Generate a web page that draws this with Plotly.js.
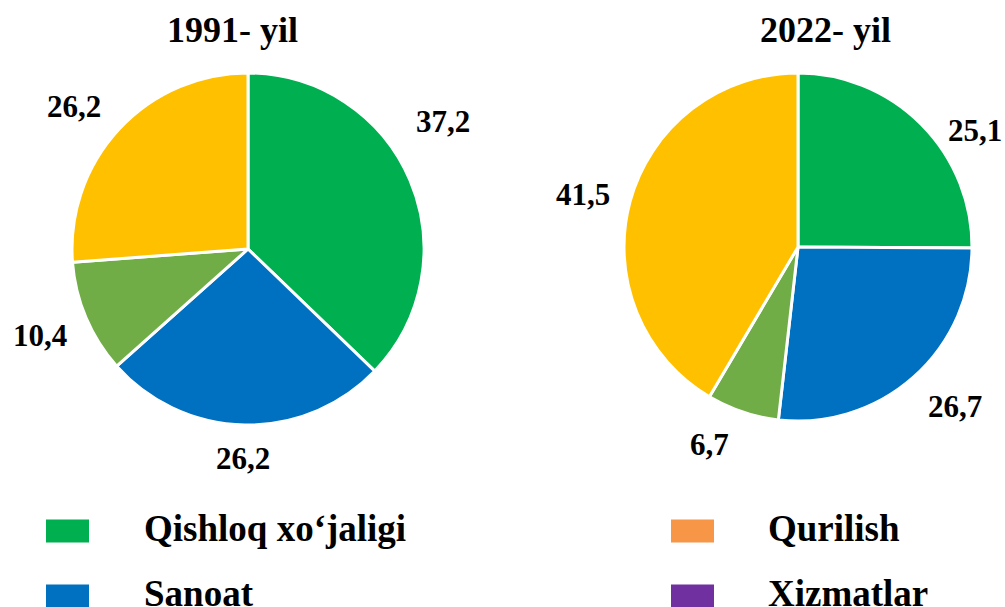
<!DOCTYPE html>
<html>
<head>
<meta charset="utf-8">
<script src="https://cdn.plot.ly/plotly-3.0.1.min.js"></script>
<style>html,body{margin:0;padding:0;background:#fff;}#chart{width:1005px;height:607px;}</style>
</head>
<body>
<div id="chart"></div>
<script>
// Data
const sectors = ["Qishloq xo‘jaligi", "Sanoat", "Qurilish", "Xizmatlar"];
const values1991 = [37.2, 26.2, 10.4, 26.2];
const values2022 = [25.1, 26.7, 6.7, 41.5];
const titles = ["1991- yil", "2022- yil"];
const sliceColors = ["#00B050", "#0070C0", "#70AD47", "#FFC000"];
const legendColors = ["#00B050", "#0070C0", "#F79646", "#7030A0"];

const W = 1005, H = 607;
const px = x => x / W;
const py = y => 1 - y / H;
const FONT = "Liberation Serif";

// pie geometry (pixels): centre and radius
const pies = [
  {vals: values1991, cx: 248, cy: 249, r: 176, title: titles[0], tx: 232,
   // label placement style: angular nudge (deg) and distance from centre (px)
   nudge: [-10, 0.4, 0.3, -3.6], dist: [233, 210, 225, 225]},
  {vals: values2022, cx: 798, cy: 247, r: 174, title: titles[1], tx: 825,
   nudge: [11.6, -2.9, 5.6, -1.5], dist: [212, 224, 216, 221]}
];

const data = pies.map(p => ({
  type: "pie",
  labels: sectors,
  values: p.vals,
  sort: false,
  direction: "clockwise",
  rotation: 0,
  marker: {colors: sliceColors, line: {color: "#ffffff", width: 3}},
  textinfo: "none",
  hoverinfo: "label+value",
  showlegend: false,
  automargin: false,
  domain: {x: [px(p.cx - p.r), px(p.cx + p.r)], y: [py(p.cy + p.r), py(p.cy - p.r)]}
}));

const annotations = [];
const boldFont = size => ({family: FONT, size: size, color: "#000", weight: "bold"});

pies.forEach(p => {
  annotations.push({text: p.title, xref: "paper", yref: "paper", x: px(p.tx), y: py(30),
    showarrow: false, xanchor: "center", yanchor: "middle", font: boldFont(36)});
  const total = p.vals.reduce((a, b) => a + b, 0);
  let cum = 0;
  p.vals.forEach((v, i) => {
    const mid = (cum + v / 2) / total * 360 + p.nudge[i];
    cum += v;
    const a = mid * Math.PI / 180;
    const x = p.cx + p.dist[i] * Math.sin(a);
    const y = p.cy - p.dist[i] * Math.cos(a);
    annotations.push({text: v.toFixed(1).replace(".", ","), xref: "paper", yref: "paper",
      x: px(x), y: py(y), showarrow: false, xanchor: "center", yanchor: "middle",
      font: boldFont(31)});
  });
});

// manual legend (colours as in reference)
const legendPos = [
  {bx: 46, tx: 142, y: 531},
  {bx: 46, tx: 142, y: 596},
  {bx: 671, tx: 766, y: 531},
  {bx: 671, tx: 766, y: 596}
];
const shapes = [];
sectors.forEach((s, i) => {
  const p = legendPos[i];
  shapes.push({type: "rect", xref: "paper", yref: "paper",
    x0: px(p.bx), x1: px(p.bx + 43), y0: py(p.y + 11.5), y1: py(p.y - 11.5),
    fillcolor: legendColors[i], line: {width: 0}});
  annotations.push({text: s, xref: "paper", yref: "paper", x: px(p.tx), y: py(p.y - 3),
    xanchor: "left", yanchor: "middle", showarrow: false, font: boldFont(37)});
});

const layout = {
  width: W, height: H,
  margin: {l: 0, r: 0, t: 0, b: 0},
  paper_bgcolor: "#fff",
  separators: ", ",
  showlegend: false,
  annotations: annotations,
  shapes: shapes
};

Plotly.newPlot("chart", data, layout, {displayModeBar: false, staticPlot: true});
</script>
</body>
</html>
